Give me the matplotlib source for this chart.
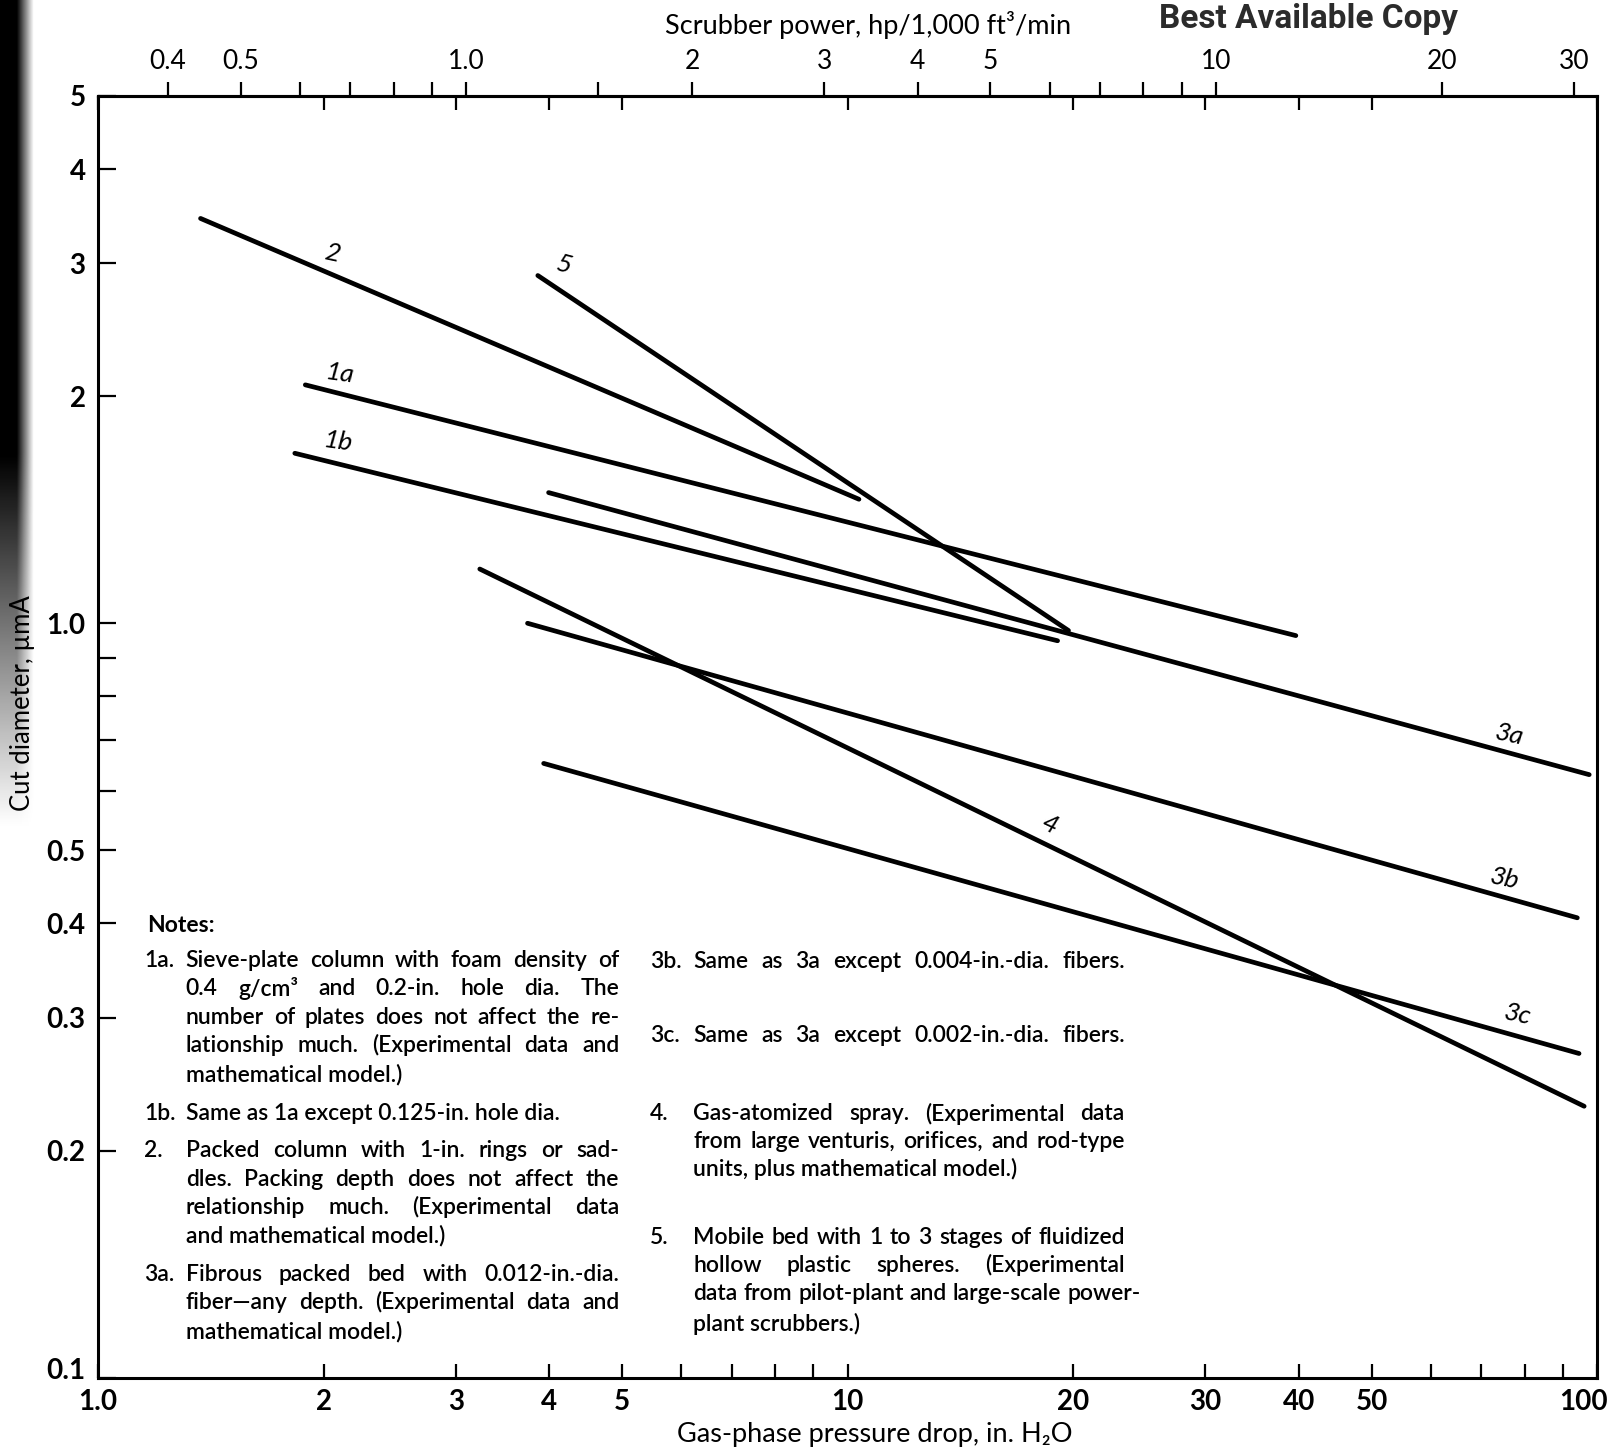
import numpy as np
import matplotlib.pyplot as plt
from matplotlib import font_manager
from matplotlib.ticker import FixedLocator, FixedFormatter, NullFormatter
from matplotlib.transforms import ScaledTranslation

plt.rcParams['font.family'] = ['Lato', 'DejaVu Sans']

# curve end points: gas-phase pressure drop (in. H2O) and cut diameter (um A)
curves = ['1a', '1b', '2', '3a', '3b', '3c', '4', '5']
dp_lo = [1.89, 1.83, 1.37, 3.99, 3.74, 3.93, 3.23, 3.86]
dp_hi = [39.6, 19.05, 10.35, 97.5, 94.0, 94.5, 96.0, 19.7]
d_lo = [2.07, 1.68, 3.44, 1.49, 1.00, 0.652, 1.18, 2.89]
d_hi = [0.963, 0.948, 1.46, 0.63, 0.407, 0.269, 0.229, 0.978]

# curve number tags (data coords) and their tilt
tag_dp = [2.10, 2.09, 2.05, 76.2, 75.3, 78.2, 18.6, 4.18]
tag_d = [2.14, 1.74, 3.09, 0.711, 0.459, 0.303, 0.541, 2.99]
tag_rot = [-8, -8, -12, -12, -12, -12, -25, -15]

# axis ticks
dp_ticks = [1, 2, 3, 4, 5, 10, 20, 30, 40, 50, 100]
dp_ticklabels = ['1.0', '2', '3', '4', '5', '10', '20', '30', '40', '50', '100']
dp_minor = [6, 7, 8, 9, 60, 70, 80, 90]
d_ticks = [0.1, 0.2, 0.3, 0.4, 0.5, 1, 2, 3, 4, 5]
d_ticklabels = ['0.1', '0.2', '0.3', '0.4', '0.5', '1.0', '2', '3', '4', '5']
d_minor = [0.6, 0.7, 0.8, 0.9]
hp_ticks = [0.4, 0.5, 1, 2, 3, 4, 5, 10, 20, 30]
hp_ticklabels = ['0.4', '0.5', '1.0', '2', '3', '4', '5', '10', '20', '30']
hp_minor = [0.6, 0.7, 0.8, 0.9, 1.5, 6, 7, 8, 9]
dp_per_hp = 3.1  # in. H2O per hp/1,000 ft3/min

# notes, two columns
notes_left = [
    ('1a.', ['Sieve-plate column with foam density of',
             '0.4 g/cm³ and 0.2-in. hole dia. The',
             'number of plates does not affect the re-',
             'lationship much. (Experimental data and',
             'mathematical model.)']),
    ('1b.', ['Same as 1a except 0.125-in. hole dia.']),
    ('2.', ['Packed column with 1-in. rings or sad-',
            'dles. Packing depth does not affect the',
            'relationship much. (Experimental data',
            'and mathematical model.)']),
    ('3a.', ['Fibrous packed bed with 0.012-in.-dia.',
             'fiber—any depth. (Experimental data and',
             'mathematical model.)']),
]
notes_right = [
    ('3b.', ['Same as 3a except 0.004-in.-dia. fibers.']),
    ('3c.', ['Same as 3a except 0.002-in.-dia. fibers.']),
    ('4.', ['Gas-atomized spray. (Experimental data',
            'from large venturis, orifices, and rod-type',
            'units, plus mathematical model.)']),
    ('5.', ['Mobile bed with 1 to 3 stages of fluidized',
            'hollow plastic spheres. (Experimental',
            'data from pilot-plant and large-scale power-',
            'plant scrubbers.)']),
]
left_rows = [[931, 958, 986, 1013, 1041], [1079], [1115, 1143, 1170, 1197], [1235, 1262, 1290]]
right_rows = [[932], [1003], [1079, 1106, 1133], [1199, 1226, 1253, 1283]]
right_full_last = [True, True, False, False]

W, H = 1568.0, 1408.0  # layout grid used for the figure-level text


def fx(px):
    return px / W


def fy(py):
    return 1 - py / H


fig = plt.figure(figsize=(16.18, 14.53), dpi=100)
ax = fig.add_axes([0.0606, 0.0518, 0.9267, 0.8822])
ax.set_xscale('log')
ax.set_yscale('log')
ax.set_xlim(1, 100)
ax.set_ylim(0.1, 5)

for i in range(len(curves)):
    ax.plot([dp_lo[i], dp_hi[i]], [d_lo[i], d_hi[i]], color='black', lw=3.4,
            solid_capstyle='round')
    ax.text(tag_dp[i], tag_d[i], curves[i], fontsize=19, style='italic',
            rotation=tag_rot[i], ha='center', va='center')

for s in ax.spines.values():
    s.set_linewidth(2.2)

ax.xaxis.set_major_locator(FixedLocator(dp_ticks))
ax.xaxis.set_major_formatter(FixedFormatter(dp_ticklabels))
ax.xaxis.set_minor_locator(FixedLocator(dp_minor))
ax.xaxis.set_minor_formatter(NullFormatter())
ax.yaxis.set_major_locator(FixedLocator(d_ticks))
ax.yaxis.set_major_formatter(FixedFormatter(d_ticklabels))
ax.yaxis.set_minor_locator(FixedLocator(d_minor))
ax.yaxis.set_minor_formatter(NullFormatter())

ax.tick_params(axis='x', which='both', direction='in', bottom=True, top=True,
               length=10, width=1.6, labelsize=20, pad=8)
ax.tick_params(axis='x', which='minor', top=False)
ax.tick_params(axis='y', which='both', direction='in', left=True, right=False,
               length=13, width=1.6, labelsize=20, pad=9)
for t in ax.get_xticklabels() + ax.get_yticklabels():
    t.set_fontweight('bold')

# pull the corner labels off the frame corners
last_x = ax.xaxis.get_major_ticks()[-1].label1
last_x.set_transform(last_x.get_transform()
                     + ScaledTranslation(-0.14, 0, fig.dpi_scale_trans))
first_y = ax.yaxis.get_major_ticks()[0].label1
first_y.set_transform(first_y.get_transform()
                      + ScaledTranslation(0, 0.09, fig.dpi_scale_trans))

# scrubber power scale along the top
top = ax.secondary_xaxis('top', functions=(lambda x: x / dp_per_hp,
                                           lambda x: x * dp_per_hp))
top.xaxis.set_major_locator(FixedLocator(hp_ticks))
top.xaxis.set_major_formatter(FixedFormatter(hp_ticklabels))
top.xaxis.set_minor_locator(FixedLocator(hp_minor))
top.xaxis.set_minor_formatter(NullFormatter())
top.tick_params(which='both', direction='out', length=10, width=1.6,
                labelsize=19, pad=6)
top.spines['top'].set_linewidth(2.2)

fig.text(fx(841), fy(24), 'Scrubber power, hp/1,000 ft³/min', fontsize=19.5,
         ha='center', va='center')
fig.text(fx(848), fy(1390), 'Gas-phase pressure drop, in. H₂O', fontsize=19.5,
         ha='center', va='center')
fig.text(fx(22), fy(681), 'Cut diameter, µmA', fontsize=18.5, rotation=90,
         ha='center', va='center')

installed = {f.name for f in font_manager.fontManager.ttflist}
if 'Liberation Sans Narrow' in installed:
    stamp_font, stamp_size = 'Liberation Sans Narrow', 27
else:
    stamp_font, stamp_size = 'Roboto', 24
fig.text(fx(1268), fy(18), 'Best Available Copy', family=stamp_font,
         fontsize=stamp_size, fontweight='bold', color='#2b2b2b',
         ha='center', va='center')

# dark scanner edge on the left
strip = fig.add_axes([0, 0.43, 0.021, 0.57], zorder=-1)
u = np.linspace(0, 1, 40)
t = np.linspace(0, 1, 200)
shade = np.clip((1 - t[:, None]) / 0.45, 0, 1) * np.clip((1 - u[None, :]) / 0.5, 0, 1)
strip.imshow(shade, cmap='gray_r', vmin=0, vmax=1, aspect='auto',
             interpolation='bilinear')
strip.axis('off')

renderer = fig.canvas.get_renderer()
note_kw = dict(fontsize=16.5, fontweight='semibold', va='center')
min_gap = 0.26 * 16.5 / 72 * fig.dpi / fig.bbox.width  # about one word space


def put_line(x0, x1, y, s, justify):
    if not justify:
        fig.text(fx(x0), fy(y), s, **note_kw)
        return
    words = s.split()
    objs = [fig.text(0, fy(y), w, **note_kw) for w in words]
    widths = [o.get_window_extent(renderer).width / fig.bbox.width for o in objs]
    gap = (fx(x1) - fx(x0) - sum(widths)) / (len(words) - 1)
    gap = max(gap, min_gap)
    x = fx(x0)
    for o, w in zip(objs, widths):
        o.set_x(x)
        x += w + gap


fig.text(fx(143), fy(897), 'Notes:', fontsize=16.5, fontweight='bold', va='center')
for (num, lines), rows in zip(notes_left, left_rows):
    fig.text(fx(140), fy(rows[0]), num, **note_kw)
    for k, (s, y) in enumerate(zip(lines, rows)):
        put_line(180, 600, y, s, k < len(lines) - 1)
for (num, lines), rows, full in zip(notes_right, right_rows, right_full_last):
    fig.text(fx(630), fy(rows[0]), num, **note_kw)
    for k, (s, y) in enumerate(zip(lines, rows)):
        put_line(672, 1090, y, s, full or k < len(lines) - 1)

fig.savefig('out.png', dpi=100)
